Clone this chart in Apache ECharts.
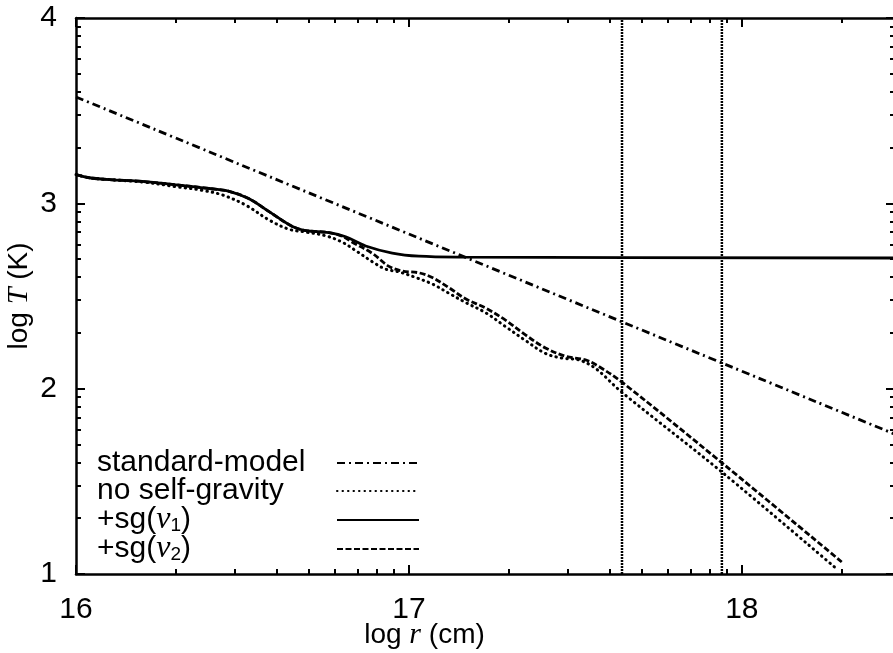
<!DOCTYPE html>
<html>
<head>
<meta charset="utf-8">
<script src="https://cdn.jsdelivr.net/npm/echarts@6/dist/echarts.min.js"></script>
<style>
  html, body { margin: 0; padding: 0; background: #fff; }
  #main { width: 893px; height: 653px; }
</style>
</head>
<body>
<div id="main"></div>
<script>
// data: [log r, log T]
const standardModel = [[16.0, 3.574], [18.46, 1.754]]

const noSelfGravity = [
  [16.00, 3.155], [16.04, 3.138], [16.10, 3.128], [16.20, 3.115], [16.30, 3.09],
  [16.38, 3.07], [16.44, 3.045], [16.51, 2.99], [16.58, 2.91], [16.64, 2.86],
  [16.69, 2.845], [16.75, 2.825], [16.80, 2.79], [16.84, 2.745], [16.89, 2.685],
  [16.93, 2.645], [16.97, 2.63], [17.02, 2.60], [17.07, 2.565], [17.12, 2.515],
  [17.17, 2.465], [17.23, 2.41], [17.29, 2.335], [17.35, 2.26], [17.41, 2.19],
  [17.46, 2.165], [17.51, 2.155], [17.56, 2.11], [17.64, 1.98], [17.94, 1.55],
  [18.28, 1.035]
]

const sgNu1 = [
  [16.00, 3.155], [16.04, 3.138], [16.10, 3.128], [16.20, 3.118], [16.30, 3.10],
  [16.40, 3.08], [16.46, 3.065], [16.52, 3.025], [16.58, 2.955], [16.65, 2.875],
  [16.69, 2.853], [16.76, 2.842], [16.81, 2.82], [16.87, 2.77], [16.95, 2.732],
  [17.03, 2.715], [17.15, 2.71], [18.46, 2.705]
]

const sgNu2 = [
  [16.00, 3.155], [16.04, 3.138], [16.10, 3.128], [16.20, 3.118], [16.30, 3.10],
  [16.40, 3.08], [16.46, 3.065], [16.52, 3.025], [16.58, 2.955], [16.65, 2.875],
  [16.69, 2.853], [16.76, 2.842], [16.80, 2.822], [16.83, 2.79], [16.89, 2.73],
  [16.94, 2.66], [16.98, 2.635], [17.03, 2.625], [17.07, 2.60], [17.12, 2.545],
  [17.17, 2.485], [17.23, 2.435], [17.29, 2.37], [17.35, 2.29], [17.41, 2.22],
  [17.47, 2.175], [17.53, 2.155], [17.57, 2.12], [17.64, 2.035], [17.94, 1.60],
  [18.30, 1.065]
]

// vertical dotted markers (log r)
const markerR = [17.64, 17.94]

const xMajor = [16, 17, 18]
const yMajor = [1, 2, 3, 4]
const decadeSteps = [2, 3, 4, 5, 6, 7, 8, 9]

const xMin = 16, xMax = 18.46, yMin = 1, yMax = 4

function minorTicks (majors, lo, hi) {
  const out = []
  majors.forEach(d => decadeSteps.forEach(k => {
    const v = d + Math.log10(k)
    if (v > lo && v < hi) out.push(v)
  }))
  return out
}
const xMinor = minorTicks([15, 16, 17, 18], xMin, xMax)
const yMinor = minorTicks([0, 1, 2, 3], yMin, yMax)

const font = 'Liberation Sans, Arial, Helvetica, sans-serif'
const black = '#000'

function axis (dim, position, ticks, len, withLine, withLabel) {
  const a = {
    type: 'value',
    position,
    min: dim === 'x' ? xMin : yMin,
    max: dim === 'x' ? xMax : yMax,
    splitLine: { show: false },
    axisLine: { show: withLine, lineStyle: { color: black, width: 2.5 } },
    axisTick: { show: true, inside: true, length: len, customValues: ticks, lineStyle: { color: black, width: 2 } },
    axisLabel: { show: false }
  }
  if (withLabel) {
    a.axisLabel = {
      show: true,
      customValues: ticks,
      color: black,
      fontFamily: font,
      fontSize: 30,
      margin: dim === 'x' ? 21 : 19
    }
  }
  return a
}

const italic = { fontFamily: 'Liberation Serif', fontStyle: 'italic', fontSize: 30, color: black }

const xBottom = axis('x', 'bottom', xMajor, 9, true, true)
xBottom.name = 'log {i|r} (cm)'
xBottom.nameLocation = 'middle'
xBottom.nameGap = 46
xBottom.nameMoveOverlap = false
xBottom.nameTextStyle = {
  color: black, fontFamily: font, fontSize: 28, padding: [0, 122, 0, 0],
  rich: { i: italic }
}

const yLeft = axis('y', 'left', yMajor, 9, true, true)
yLeft.name = 'log {i|T} (K)'
yLeft.nameLocation = 'middle'
yLeft.nameGap = 42
yLeft.nameMoveOverlap = false
yLeft.nameTextStyle = {
  color: black, fontFamily: font, fontSize: 28,
  rich: { i: italic }
}

// legend rows: label text and vertical position of each row
const legendNames = ['standard-model', 'no self-gravity', '+sg(ν1)', '+sg(ν2)']
const legendText = [
  '{t|standard-model}',
  '{t|no self-gravity}',
  '{t|+sg(}{v|ν}{s|1}{t|)}',
  '{t|+sg(}{v|ν}{s|2}{t|)}'
]
const legendRowY = [463, 491, 519, 548]

const legendRich = {
  t: { fontFamily: font, fontSize: 30, lineHeight: 30, color: black, align: 'left' },
  v: { fontFamily: 'Liberation Serif', fontStyle: 'italic', fontSize: 32, lineHeight: 30, color: black, align: 'left' },
  s: { fontFamily: font, fontSize: 19, lineHeight: 19, verticalAlign: 'bottom', color: black, align: 'left' }
}

const legends = legendNames.map((name, i) => ({
  orient: 'vertical',
  left: 97,
  top: legendRowY[i] - 15,
  align: 'right',
  itemWidth: 82,
  itemHeight: 14,
  padding: 0,
  selectedMode: false,
  itemStyle: { opacity: 0 },
  lineStyle: { width: 2 },
  data: [name],
  formatter: () => legendText[i],
  textStyle: { color: black, fontFamily: font, fontSize: 30, width: 235, rich: legendRich }
}))

function curve (name, data, type, width, cap) {
  return {
    name,
    type: 'line',
    data,
    smooth: 0.35,
    symbol: 'none',
    lineStyle: { color: black, width, type, cap },
    itemStyle: { color: black, opacity: 0 },
    z: 3
  }
}

const markers = markerR.map((r, i) => ({
  name: 'marker' + i,
  type: 'line',
  data: [[r, yMin], [r, yMax]],
  symbol: 'none',
  silent: true,
  lineStyle: { color: black, width: 2.5, type: [2, 1] },
  z: 2
}))

const chart = echarts.init(document.getElementById('main'))
chart.setOption({
  animation: false,
  backgroundColor: '#fff',
  grid: { left: 76, right: -2, top: 18, bottom: 79, outerBoundsMode: 'none' },
  xAxis: [
    xBottom,
    axis('x', 'bottom', xMinor, 5, false, false),
    axis('x', 'top', xMajor, 9, true, false),
    axis('x', 'top', xMinor, 5, false, false)
  ],
  yAxis: [
    yLeft,
    axis('y', 'left', yMinor, 5, false, false),
    axis('y', 'right', yMajor, 9, true, false),
    axis('y', 'right', yMinor, 5, false, false)
  ],
  legend: legends,
  series: [
    ...markers,
    curve('standard-model', standardModel, [8, 4, 2, 4], 2.8, 'butt'),
    curve('no self-gravity', noSelfGravity, [0.5, 5], 3, 'round'),
    curve('+sg(ν1)', sgNu1, 'solid', 2.8, 'butt'),
    curve('+sg(ν2)', sgNu2, [6, 2.5], 2.8, 'butt')
  ]
})
</script>
</body>
</html>
